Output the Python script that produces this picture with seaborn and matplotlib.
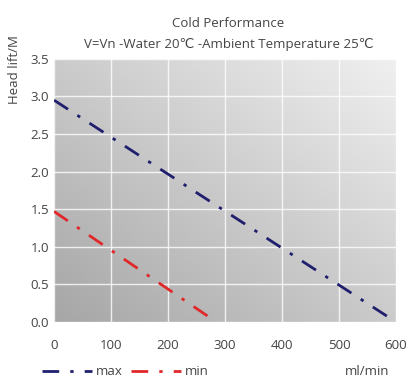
import numpy as np
import pandas as pd
import matplotlib
matplotlib.use("Agg")
import matplotlib.pyplot as plt
import seaborn as sns

# data
flow_max = [0, 600]
head_max = [2.95, 0.0]
flow_min = [0, 275]
head_min = [1.47, 0.05]
x_ticks = [0, 100, 200, 300, 400, 500, 600]
y_ticks = [0.0, 0.5, 1.0, 1.5, 2.0, 2.5, 3.0, 3.5]

df = pd.concat([
    pd.DataFrame({"flow": flow_max, "head": head_max, "curve": "max"}),
    pd.DataFrame({"flow": flow_min, "head": head_min, "curve": "min"}),
])

sns.set_theme(style="whitegrid")
plt.rcParams["font.family"] = ["Open Sans", "DejaVu Sans"]

fig = plt.figure(figsize=(4.19, 3.87), dpi=100)
ax = fig.add_axes([0.129, 0.168, 0.816, 0.68])

# diagonal grey gradient background (dark bottom-left, light top-right)
gx, gy = np.meshgrid(np.linspace(0, 1, 200), np.linspace(0, 1, 200))
grad = 0.65 + 0.29 * (gx + gy) / 2
ax.imshow(grad, extent=[0, 600, 0, 3.5], origin="lower", aspect="auto",
          cmap="gray", vmin=0, vmax=1, zorder=0, interpolation="bicubic")

palette = {"max": "#1f1f6e", "min": "#e0282a"}
sns.lineplot(data=df, x="flow", y="head", hue="curve", palette=palette,
             ax=ax, linewidth=2, zorder=3)
for line in ax.get_lines():
    line.set_dashes([6, 4, 1.2, 4])

ax.set_xlim(0, 600)
ax.set_ylim(0, 3.5)
ax.set_xticks(x_ticks)
ax.set_yticks(y_ticks)
ax.set_yticklabels([f"{v:.1f}" for v in y_ticks])
ax.grid(True, color="white", linewidth=1, alpha=0.8, zorder=1)
ax.set_axisbelow(False)
for s in ax.spines.values():
    s.set_visible(False)
ax.tick_params(axis="both", colors="#444444", labelsize=9.5, length=0)
ax.tick_params(axis="x", pad=12)
ax.set_xlabel("")
ax.set_ylabel("")

fig.text(0.545, 0.94, "Cold Performance", ha="center", va="center",
         fontsize=9.5, color="#444444")
fig.text(0.545, 0.885, "V=Vn -Water 20\u2103 -Ambient Temperature 25\u2103",
         ha="center", va="center", fontsize=9.5, color="#444444")
fig.text(0.035, 0.91, "Head lift/M", rotation=90, ha="center", va="top",
         fontsize=9.5, color="#444444")
fig.text(0.93, 0.04, "ml/min", ha="right", va="center",
         fontsize=9.5, color="#444444")

for h in ax.get_lines():
    pass
leg = ax.legend(loc="center left", bbox_to_anchor=(-0.07, -0.19), ncol=2,
                frameon=False, fontsize=9.5, handlelength=3.8,
                columnspacing=0.6, handletextpad=0.3, labelcolor="#444444")
for lh in leg.get_lines():
    lh.set_dashes([6, 4, 1.2, 4])

fig.savefig("out.png", dpi=100)
